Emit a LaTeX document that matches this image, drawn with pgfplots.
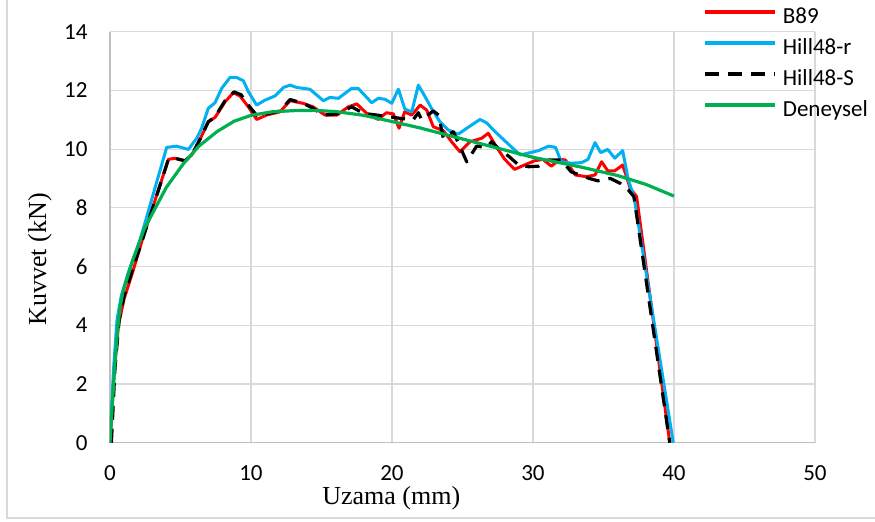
\documentclass[border=0pt]{standalone}
\usepackage{pgfplots}
\pgfplotsset{compat=1.18}
\usepackage{fontspec}
\setmainfont{Carlito}
\newfontfamily\timesf{Liberation Serif}
\definecolor{gridgray}{RGB}{217,217,217}
\definecolor{axgray}{RGB}{191,191,191}
\definecolor{exred}{RGB}{255,0,0}
\definecolor{exblue}{RGB}{0,176,240}
\definecolor{exgreen}{RGB}{0,176,80}
\begin{document}
\begin{tikzpicture}
\path[use as bounding box] (-55pt,-39.65pt) rectangle (382.5pt,221.35pt);
\draw[gridgray, line width=0.7pt] (-51.5pt,221.35pt) -- (-51.5pt,-37.65pt) -- (382.5pt,-37.65pt);
\begin{axis}[
  scale only axis, width=352.5pt, height=205.5pt,
  xmin=0, xmax=50, ymin=0, ymax=14,
  xtick={0,10,...,50}, ytick={0,2,...,14},
  grid=major, grid style={draw=gridgray, line width=0.6pt},
  axis lines=left, axis line style={-, draw=axgray, line width=0.7pt},
  major tick length=0pt,
  /pgf/number format/assume math mode=true,
  ticklabel style={font=\fontsize{11.5}{13}\selectfont},
  xticklabel style={yshift=-8pt},
  yticklabel style={xshift=-7.7pt},
  xlabel={\timesf\fontsize{13}{15}\selectfont Uzama (mm)},
  ylabel={\timesf\fontsize{13}{15}\selectfont Kuvvet (kN)},
  xlabel style={at={(axis description cs:0.399,-0.1358)}, anchor=center},
  ylabel style={at={(axis description cs:-0.0993,0.446)}, anchor=center},
  legend cell align=left,
  legend style={draw=none, fill=none, at={(axis description cs:0.841,1.062)}, anchor=north west,
    font=\fontsize{11.5}{13}\selectfont, row sep=4pt, inner sep=0pt,
    /tikz/every odd column/.style={column sep=3pt},
    nodes={inner sep=0pt, text height=8.2pt, text depth=3.3pt}},
  legend image code/.code={\draw[#1, line width=1.8pt] (0pt,3.2pt) -- (35pt,3.2pt);},
  every axis plot/.append style={line join=round},
]
\addplot[exred, line width=1.5pt] coordinates {
(0,0) (0.3,2.4) (0.6,4.0) (1.0,4.9) (1.6,5.8) (2.36,7.02) (4.14,9.65) (4.6,9.69) (5.32,9.6) (5.8,9.8) (6.38,10.33) (6.97,10.93) (7.45,11.08) (8.16,11.61) (8.75,11.92) (9.22,11.81) (9.81,11.44) (10.4,11.01) (11.1,11.16) (12.06,11.27) (12.77,11.65) (13.7,11.56) (14.4,11.44) (15.25,11.16) (16.1,11.16) (16.9,11.44) (17.5,11.54) (18.2,11.22) (19.03,11.01) (19.6,11.24) (20.1,11.2) (20.5,10.71) (20.9,11.27) (21.4,11.16) (22.0,11.5) (22.46,11.33) (22.93,10.76) (23.64,10.63) (24.23,10.25) (24.82,9.91) (25.53,10.25) (26.36,10.37) (26.83,10.54) (27.4,10.08) (28.0,9.65) (28.7,9.31) (29.4,9.46) (30.1,9.6) (30.7,9.65) (31.3,9.42) (31.9,9.65) (32.3,9.63) (33.0,9.12) (33.8,9.06) (34.4,9.12) (34.87,9.57) (35.3,9.26) (35.8,9.26) (36.36,9.46) (36.9,8.66) (37.35,8.38) (39.7,0)
};
\addlegendentry{B89}
\addplot[exblue, line width=1.5pt] coordinates {
(0,0) (0.25,2.5) (0.5,4.2) (0.8,5.0) (1.3,5.8) (2.13,6.9) (4.02,10.06) (4.73,10.1) (5.56,9.99) (6.15,10.37) (6.5,10.71) (6.97,11.39) (7.45,11.58) (7.92,12.07) (8.51,12.44) (8.98,12.44) (9.46,12.33) (9.81,11.96) (10.4,11.5) (11.0,11.67) (11.7,11.81) (12.3,12.1) (12.77,12.18) (13.24,12.1) (14.18,12.04) (15.13,11.65) (15.6,11.76) (16.2,11.73) (17.14,12.07) (17.6,12.07) (18.56,11.58) (19.03,11.73) (19.5,11.7) (19.98,11.56) (20.45,12.04) (20.92,11.36) (21.4,11.27) (21.87,12.18) (22.34,11.79) (22.8,11.39) (23.4,10.93) (24.0,10.65) (24.7,10.51) (25.3,10.71) (26.24,11.01) (26.7,10.9) (27.3,10.6) (27.9,10.33) (28.5,10.06) (29.1,9.8) (29.8,9.88) (30.4,9.95) (31.1,10.1) (31.6,10.06) (32.0,9.57) (32.7,9.52) (33.45,9.54) (33.9,9.65) (34.4,10.22) (34.8,9.88) (35.3,9.99) (35.8,9.69) (36.36,9.95) (36.76,8.95) (37.16,8.38) (39.95,0)
};
\addlegendentry{Hill48-r}
\addplot[black, line width=1.6pt, dash pattern=on 7pt off 4.5pt] coordinates {
(0.1,0) (0.35,2.5) (0.65,4.2) (1.0,5.0) (1.6,5.9) (2.36,7.0) (4.14,9.65) (4.6,9.69) (5.32,9.6) (5.8,9.8) (6.38,10.33) (6.97,10.93) (7.45,11.1) (8.16,11.65) (8.8,11.95) (9.3,11.85) (9.81,11.5) (10.4,11.15) (11.1,11.2) (12.06,11.3) (12.77,11.69) (13.7,11.56) (14.4,11.39) (15.13,11.16) (16.1,11.2) (17.14,11.44) (17.97,11.22) (18.9,11.16) (19.86,11.1) (20.57,11.05) (21.5,11.0) (21.87,11.24) (22.1,11.0) (22.93,11.3) (23.3,11.16) (23.64,10.37) (24.35,10.59) (25.3,9.57) (26.0,10.1) (26.7,10.06) (27.07,10.25) (27.66,9.97) (28.3,9.75) (29.0,9.45) (29.7,9.4) (30.4,9.42) (31.1,9.63) (32.0,9.63) (32.7,9.23) (33.3,9.12) (34.0,9.0) (34.6,8.92) (35.5,9.0) (36.2,8.83) (36.76,8.61) (37.16,8.38) (39.7,0)
};
\addlegendentry{Hill48-S}
\addplot[exgreen, line width=1.6pt] coordinates {
(0,0) (0.15,1.2) (0.35,2.7) (0.55,3.9) (0.71,4.6) (0.9,5.1) (1.18,5.55) (1.6,6.2) (2.1,6.85) (2.4,7.25) (3,7.8) (4,8.7) (5.2,9.5) (6.3,10.1) (7.6,10.6) (8.8,10.95) (10,11.15) (11.5,11.27) (13,11.31) (14.5,11.32) (16,11.28) (18,11.15) (19.9,10.95) (22,10.72) (24,10.47) (26,10.22) (28,9.97) (30,9.72) (33.3,9.4) (36,9.1) (38,8.8) (40,8.4)
};
\addlegendentry{Deneysel}
\end{axis}
\end{tikzpicture}
\end{document}
